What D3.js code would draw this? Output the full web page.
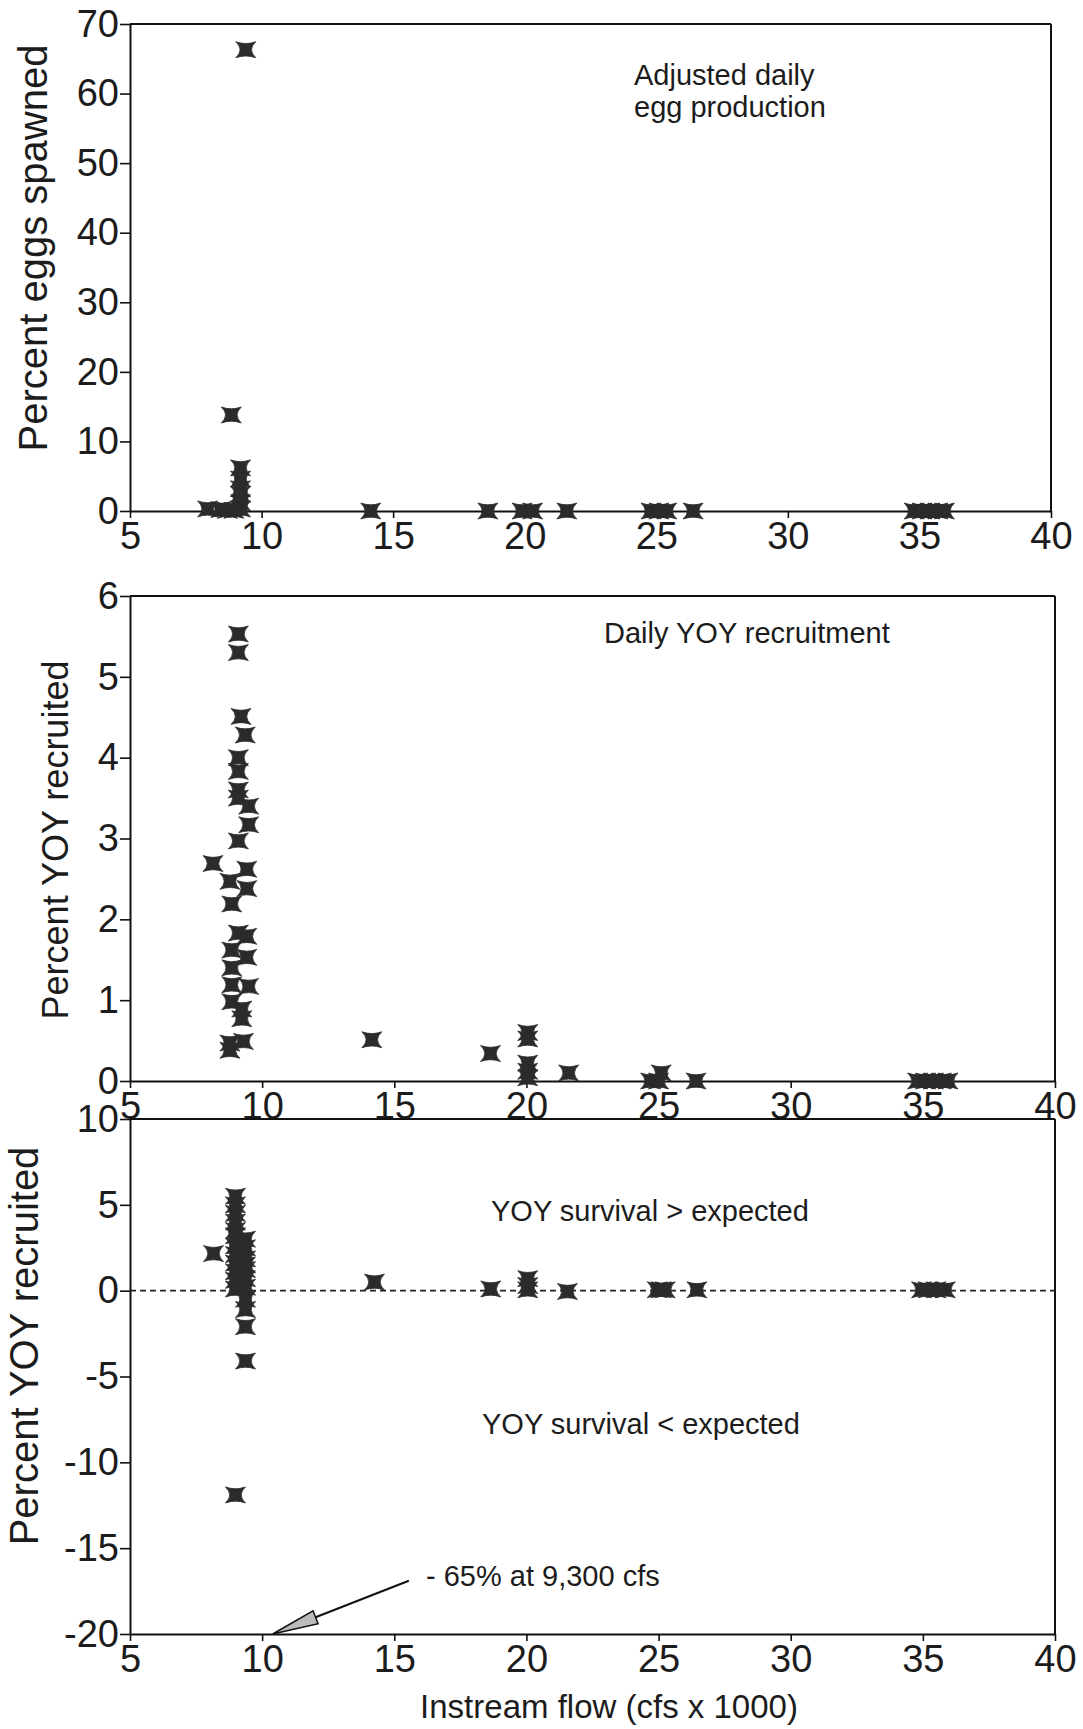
<!DOCTYPE html>
<html>
<head>
<meta charset="utf-8">
<script src="https://cdn.jsdelivr.net/npm/d3@7"></script>
<style>
body { margin: 0; background: #fff; }
text { font-family: "Liberation Sans", Arial, sans-serif; fill: #1c1c1c; }
</style>
</head>
<body>
<div id="canvas"></div>
<script>
// values (flow in cfs x 1000)
var eggFlow = [9.4, 8.85, 9.2, 9.2, 9.2, 9.2, 9.2, 9.2, 7.95, 8.45, 8.7, 8.95,
	14.15, 18.6, 19.9, 20.3, 21.6, 24.8, 25.1, 25.4, 26.4, 34.8, 35.1, 35.4, 35.7, 35.95];
var eggPct = [66.3, 13.8, 6.2, 4.6, 3.2, 2.4, 1.2, 0.3, 0.3, 0.2, 0.1, 0.1,
	0, 0, 0, 0, 0, 0, 0, 0, 0, 0, 0, 0, 0, 0];

var recFlow = [9.1, 9.1, 9.2, 9.36, 9.1, 9.1, 9.1, 9.1, 9.49, 9.49, 9.1, 8.14, 8.78, 9.42, 9.42,
	8.85, 9.1, 9.42, 8.85, 9.42, 8.85, 8.85, 9.49, 8.85, 9.23, 9.23, 8.78, 9.29, 8.78,
	14.15, 18.64, 20.05, 20.05, 20.05, 20.05, 20.05, 21.6, 24.7, 25.0, 25.1, 26.42,
	34.8, 35.1, 35.4, 35.7, 35.95];
var recPct = [5.53, 5.30, 4.51, 4.28, 4.0, 3.83, 3.6, 3.5, 3.40, 3.17, 2.97, 2.69, 2.47, 2.62, 2.38,
	2.19, 1.83, 1.79, 1.62, 1.53, 1.40, 1.19, 1.17, 0.98, 0.89, 0.77, 0.47, 0.49, 0.38,
	0.51, 0.34, 0.60, 0.52, 0.22, 0.12, 0.04, 0.10, 0.0, 0.0, 0.10, 0.0,
	0, 0, 0, 0, 0];

var resFlow = [8.99, 8.99, 8.99, 8.99, 8.99, 8.99, 8.16, 8.99, 8.99, 8.99, 8.99, 8.99, 8.99,
	9.37, 9.37, 9.37, 9.37, 9.37, 9.37, 9.37, 9.37, 9.37, 9.37, 9.37, 8.99,
	14.25, 18.65, 20.05, 20.05, 20.05, 21.55, 24.95, 25.1, 25.25, 26.45, 34.95, 35.2, 35.5, 35.85];
var resPct = [5.5, 5.0, 4.5, 4.0, 3.5, 3.2, 2.16, 2.6, 2.1, 1.6, 1.1, 0.6, 0.1,
	3.0, 2.5, 1.85, 1.5, 1.23, 0.7, 0.2, -0.5, -1.1, -2.1, -4.1, -11.9,
	0.5, 0.1, 0.7, 0.3, 0.05, -0.05, 0.05, 0.05, 0.05, 0.05, 0.05, 0.05, 0.05, 0.05];

var flowTicks = [5, 10, 15, 20, 25, 30, 35, 40];
var eggTicks = [0, 10, 20, 30, 40, 50, 60, 70];
var recTicks = [0, 1, 2, 3, 4, 5, 6];
var resTicks = [-20, -15, -10, -5, 0, 5, 10];

// annotation arrow in panel 3 (flow, percent)
var arrowFrom = [15.55, -16.9],
	arrowTo = [10.4, -20];

var width = 1083,
	height = 1729;

var svg = d3.select("#canvas").append("svg")
	.attr("width", width)
	.attr("height", height)
	.style("background-color", "#fff");

var panels = [
	{top: 24, bottom: 511, left: 130, right: 1051, flow: eggFlow, pct: eggPct, ticks: eggTicks,
		title: "Percent eggs spawned", titleX: 47, titleMid: 248, titleSize: 40,
		notes: [{x: 634, y: 85, t: "Adjusted daily"}, {x: 634, y: 117, t: "egg production"}]},
	{top: 596, bottom: 1081, left: 130, right: 1055, flow: recFlow, pct: recPct, ticks: recTicks,
		title: "Percent YOY recruited", titleX: 68, titleMid: 840, titleSize: 36,
		notes: [{x: 604, y: 643, t: "Daily YOY recruitment"}]},
	{top: 1119, bottom: 1634, left: 130, right: 1055, flow: resFlow, pct: resPct, ticks: resTicks,
		title: "Percent YOY recruited", titleX: 38, titleMid: 1346, titleSize: 40,
		notes: [{x: 491, y: 1221, t: "YOY survival > expected"}, {x: 482, y: 1434, t: "YOY survival < expected"}]}
];

function bowtie(w, h){
	return "M" + (-w) + "," + (-h) +
		" Q0," + (-h * 0.55) + " " + w + "," + (-h) +
		" Q" + (w * 0.15) + ",0 " + w + "," + h +
		" Q0," + (h * 0.55) + " " + (-w) + "," + h +
		" Q" + (-w * 0.15) + ",0 " + (-w) + "," + (-h) + "Z";
}

panels.forEach(function(p, k){
	var x = d3.scaleLinear().domain([5, 40]).range([p.left, p.right]);
	var y = d3.scaleLinear().domain(d3.extent(p.ticks)).range([p.bottom, p.top]);
	var g = svg.append("g");

	// frame: top and right
	g.append("line")
		.attr("x1", p.left).attr("x2", p.right)
		.attr("y1", p.top).attr("y2", p.top)
		.attr("stroke", "#111").attr("stroke-width", 2);
	g.append("line")
		.attr("x1", p.right).attr("x2", p.right)
		.attr("y1", p.top).attr("y2", p.bottom)
		.attr("stroke", "#111").attr("stroke-width", 2);

	var xAxis = g.append("g")
		.attr("transform", "translate(0," + p.bottom + ")")
		.call(d3.axisBottom(x).tickValues(flowTicks).tickSize(7).tickSizeOuter(0).tickPadding(4)
			.tickFormat(function(d){ return String(d); }));
	var yAxis = g.append("g")
		.attr("transform", "translate(" + p.left + ",0)")
		.call(d3.axisLeft(y).tickValues(p.ticks).tickSize(10).tickSizeOuter(0).tickPadding(1)
			.tickFormat(function(d){ return String(d); }));

	[xAxis, yAxis].forEach(function(a){
		a.select(".domain").attr("stroke", "#111").attr("stroke-width", 2);
		a.selectAll(".tick line").attr("stroke", "#111").attr("stroke-width", 1.6);
		a.selectAll(".tick text")
			.style("font-family", "'Liberation Sans', Arial, sans-serif")
			.style("font-size", "38px")
			.attr("fill", "#1c1c1c");
	});

	if(k === 2){
		g.append("line")
			.attr("x1", p.left).attr("x2", p.right)
			.attr("y1", y(0)).attr("y2", y(0))
			.attr("stroke", "#222")
			.attr("stroke-width", 1.6)
			.attr("stroke-dasharray", "6,4");
	}

	g.append("text")
		.attr("transform", "translate(" + p.titleX + "," + p.titleMid + ") rotate(-90)")
		.attr("text-anchor", "middle")
		.style("font-size", p.titleSize + "px")
		.text(p.title);

	g.selectAll(".note")
		.data(p.notes)
		.enter()
		.append("text")
		.attr("x", function(d){ return d.x; })
		.attr("y", function(d){ return d.y; })
		.style("font-size", "29px")
		.text(function(d){ return d.t; });

	var pts = p.flow.map(function(f, i){ return [f, p.pct[i]]; });
	g.selectAll(".pt")
		.data(pts)
		.enter()
		.append("path")
		.attr("d", bowtie(10, 8))
		.attr("transform", function(d){ return "translate(" + x(d[0]) + "," + y(d[1]) + ")"; })
		.attr("fill", "#2b2b2b")
		.attr("stroke", "#2b2b2b")
		.attr("stroke-width", 0.8);

	if(k === 2){
		var x0 = x(arrowFrom[0]), y0 = y(arrowFrom[1]),
			x1 = x(arrowTo[0]), y1 = y(arrowTo[1]);
		var ang = Math.atan2(y0 - y1, x0 - x1),
			len = 46, half = 7;
		var bx = x1 + Math.cos(ang) * len, by = y1 + Math.sin(ang) * len;
		g.append("line")
			.attr("x1", x0).attr("y1", y0)
			.attr("x2", bx).attr("y2", by)
			.attr("stroke", "#111").attr("stroke-width", 2);
		var head = [[x1, y1],
			[bx - Math.sin(ang) * half, by + Math.cos(ang) * half],
			[bx + Math.sin(ang) * half, by - Math.cos(ang) * half]];
		g.append("path")
			.attr("d", "M" + head.join("L") + "Z")
			.attr("fill", "#bbb")
			.attr("stroke", "#111")
			.attr("stroke-width", 1.5);
		g.append("text")
			.attr("x", 426)
			.attr("y", 1586)
			.style("font-size", "29px")
			.text("- 65% at 9,300 cfs");
	}
});

svg.append("text")
	.attr("x", 609)
	.attr("y", 1718)
	.attr("text-anchor", "middle")
	.style("font-size", "33px")
	.text("Instream flow (cfs x 1000)");
</script>
</body>
</html>
